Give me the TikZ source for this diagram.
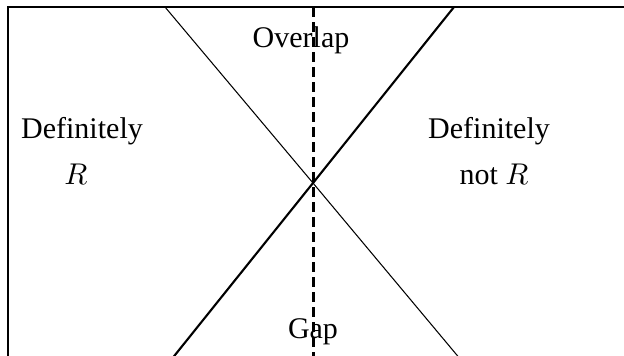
\documentclass[tikz,border=0pt]{standalone}
\usepackage{fontspec}
\setmainfont{Liberation Serif}
\usepackage{amsmath}

\begin{document}
\begin{tikzpicture}[x=0.3333pt, y=-0.3333pt, baseline=0cm]
  \useasboundingbox (0,0) rectangle (624,355);
  \clip (0,0) rectangle (624,355);
  % Frame
  \draw[line width=0.7pt] (8,400) -- (8,7) -- (700,7);
  % Coordinates
  \coordinate (Cross) at (313,183);
  \coordinate (TopL) at (165,7);
  \coordinate (BotR) at (461,360);
  \coordinate (TopR) at (454,7);
  \coordinate (BotL) at (171,360);
  \coordinate (DashTop) at (313,7);
  \coordinate (DashBot) at (313,360);
  % Nodes
  \node[anchor=base] (Overlap) at (301,47) {Overlap};
  \node[anchor=base] (Gap) at (313,338) {Gap};
  \node[anchor=base] (DefL) at (82,138) {Definitely};
  \node[anchor=base] (RL) at (76,184) {$R$};
  \node[anchor=base] (DefR) at (489,138) {Definitely};
  \node[anchor=base] (NotR) at (494,184) {not $R$};
  % Edges
  \draw[line width=0.35pt] (TopL) -- (Cross) -- (BotR);
  \draw[line width=0.7pt] (TopR) -- (Cross) -- (BotL);
  \draw[line width=1pt, dash pattern=on 3.3pt off 1.7pt] (DashTop) -- (DashBot);
\end{tikzpicture}
\end{document}
